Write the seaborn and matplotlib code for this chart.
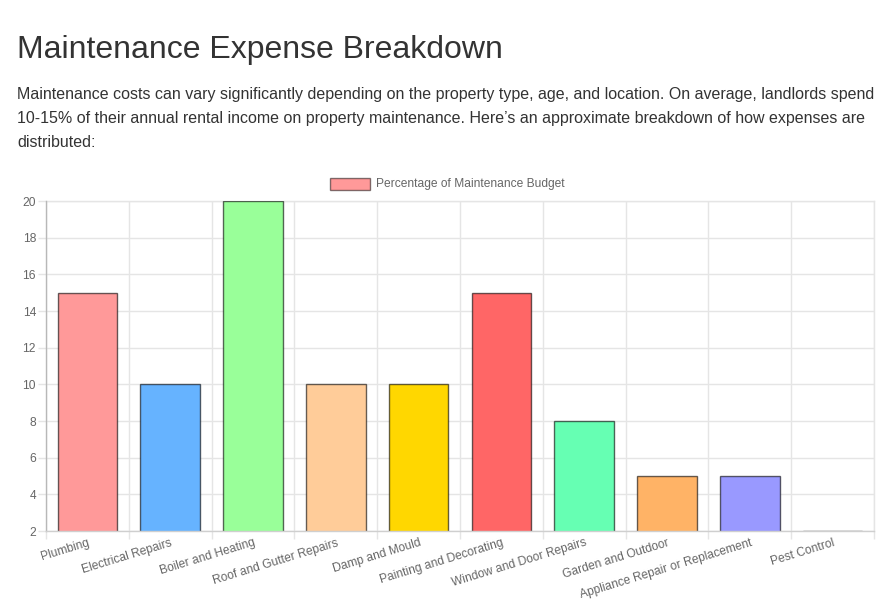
import matplotlib
matplotlib.use("Agg")
import matplotlib.pyplot as plt
import seaborn as sns
from matplotlib.patches import Rectangle

categories = ["Plumbing", "Electrical Repairs", "Boiler and Heating", "Roof and Gutter Repairs",
              "Damp and Mould", "Painting and Decorating", "Window and Door Repairs",
              "Garden and Outdoor", "Appliance Repair or Replacement", "Pest Control"]
values = [15, 10, 20, 10, 10, 15, 8, 5, 5, 2]
colors = ["#FF9999", "#66B3FF", "#99FF99", "#FFCC99", "#FFD700",
          "#FF6666", "#66FFB3", "#FFB366", "#9999FF", "#FF99CC"]
y_ticks = [2, 4, 6, 8, 10, 12, 14, 16, 18, 20]
legend_label = "Percentage of Maintenance Budget"
title = "Maintenance Expense Breakdown"
paragraph = ["Maintenance costs can vary significantly depending on the property type, age, and location. On average, landlords spend",
             "10-15% of their annual rental income on property maintenance. Here\u2019s an approximate breakdown of how expenses are",
             "distributed:"]

sns.set_style("white")
plt.rcParams['font.family'] = ['Liberation Sans', 'DejaVu Sans']

W, H = 896, 615
fig = plt.figure(figsize=(W / 100, H / 100), dpi=100)
px = 72 / 100  # points per pixel

# Title and paragraph
fig.text(17 / W, 1 - 58 / H, title, fontsize=32 * px, color="#333333", ha="left", va="baseline")
for i, line in enumerate(paragraph):
    fig.text(17 / W, 1 - (99 + 24 * i) / H, line, fontsize=16 * px, color="#333333",
             ha="left", va="baseline")

# Axes
left, right, top, bottom = 46, 874, 201, 531
ax = fig.add_axes([left / W, 1 - bottom / H, (right - left) / W, (bottom - top) / H])

sns.barplot(x=categories, y=values, hue=categories, palette=colors, legend=False,
            saturation=1, width=0.72, edgecolor=(0, 0, 0, 0.6), linewidth=1, ax=ax, zorder=3)

ax.set_ylim(2, 20)
ax.set_xlim(-0.5, len(categories) - 0.5)
ax.set_yticks(y_ticks)
ax.set_yticklabels([str(v) for v in y_ticks])
ax.set_xlabel("")
ax.set_ylabel("")

grid_c = "#e5e5e5"
ax.set_xticks([i - 0.5 for i in range(len(categories) + 1)], minor=True)
ax.set_xticks(range(len(categories)))
ax.set_xticklabels(categories, rotation=17, ha="right", va="top", rotation_mode="anchor")
ax.tick_params(axis="x", which="major", length=0, pad=6 * px, labelsize=12 * px, labelcolor="#666666")
ax.tick_params(axis="x", which="minor", length=8 * px, width=1, color=grid_c, bottom=True)
ax.tick_params(axis="y", length=8 * px, width=1, color=grid_c, pad=2 * px,
               labelsize=12 * px, labelcolor="#666666", left=True)
ax.grid(True, axis="x", which="minor", color=grid_c, linewidth=1, zorder=0)
ax.grid(True, axis="y", which="major", color=grid_c, linewidth=1, zorder=0)
ax.grid(False, axis="x", which="major")
ax.set_axisbelow(True)
for s in ["top", "right"]:
    ax.spines[s].set_color(grid_c)
    ax.spines[s].set_zorder(1)
ax.spines["left"].set_color("#b8b8b8")
ax.spines["bottom"].set_color("#cfcfcf")
ax.spines["bottom"].set_zorder(5)
for s in ax.spines.values():
    s.set_linewidth(1)

# Legend
fig.patches.append(Rectangle((330 / W, 1 - 190 / H), 40 / W, 12 / H, transform=fig.transFigure,
                             facecolor=colors[0], edgecolor=(0, 0, 0, 0.5), linewidth=1))
fig.text(376 / W, 1 - 184 / H, legend_label, fontsize=12 * px, color="#666666",
         ha="left", va="center")

fig.savefig("out.png", dpi=100)
